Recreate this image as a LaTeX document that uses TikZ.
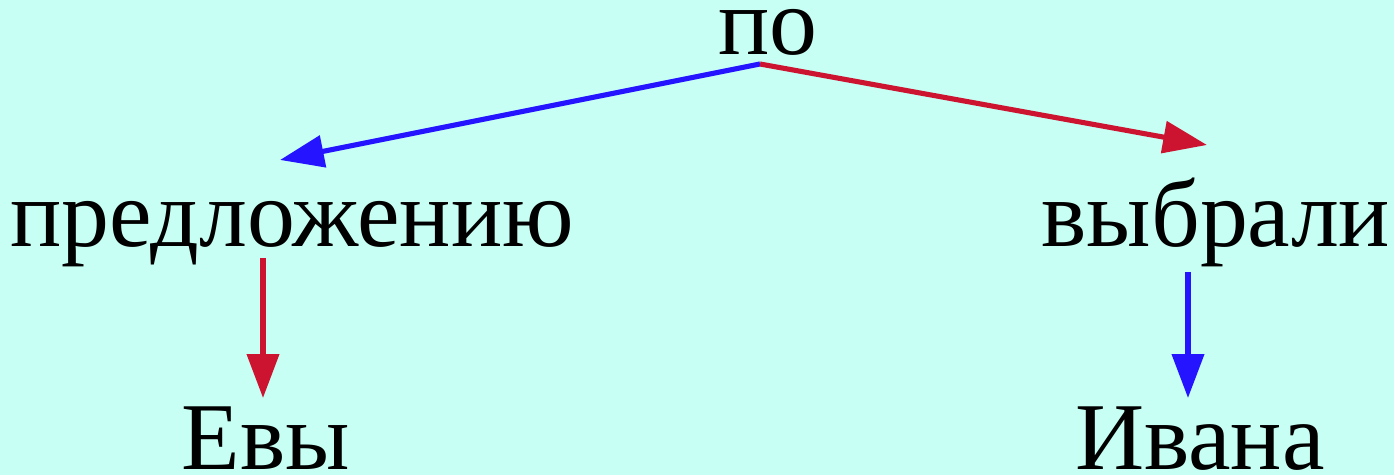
\documentclass[tikz,border=0pt]{standalone}
\usepackage{fontspec}
\setmainfont{Liberation Serif}
\usetikzlibrary{arrows.meta}
\definecolor{bgcyan}{HTML}{C8FFF4}
\definecolor{depblue}{HTML}{2414FF}
\definecolor{depred}{HTML}{CC1431}
\tikzset{
  word/.style={anchor=base,inner sep=0pt,font=\fontsize{54.5}{60}\selectfont},
  dep/.style={line width=2.9pt,-{Triangle[length=25pt,width=18pt]}}
}
\begin{document}
\begin{tikzpicture}[x=0.02cm,y=-0.02cm]
  \fill[bgcyan] (0,0) rectangle (1394,475);
  \useasboundingbox (0,0) rectangle (1394,475);
  \node[word] (po) at (768,55) {по};
  \node[word] (pred) at (292,247) {предложению};
  \node[word] (vybr) at (1216,247) {выбрали};
  \node[word] (evy) at (266,470) {Евы};
  \node[word] (ivana) at (1200,470) {Ивана};
  \coordinate (hub) at (760,64);
  \coordinate (predtip) at (280,160);
  \coordinate (vybrtip) at (1207,145);
  \draw[dep,depblue] (hub) -- (predtip);
  \draw[dep,depred] (hub) -- (vybrtip);
  \draw[dep,depred] (263,258) -- (263,398);
  \draw[dep,depblue] (1188,272) -- (1188,398);
\end{tikzpicture}
\end{document}
